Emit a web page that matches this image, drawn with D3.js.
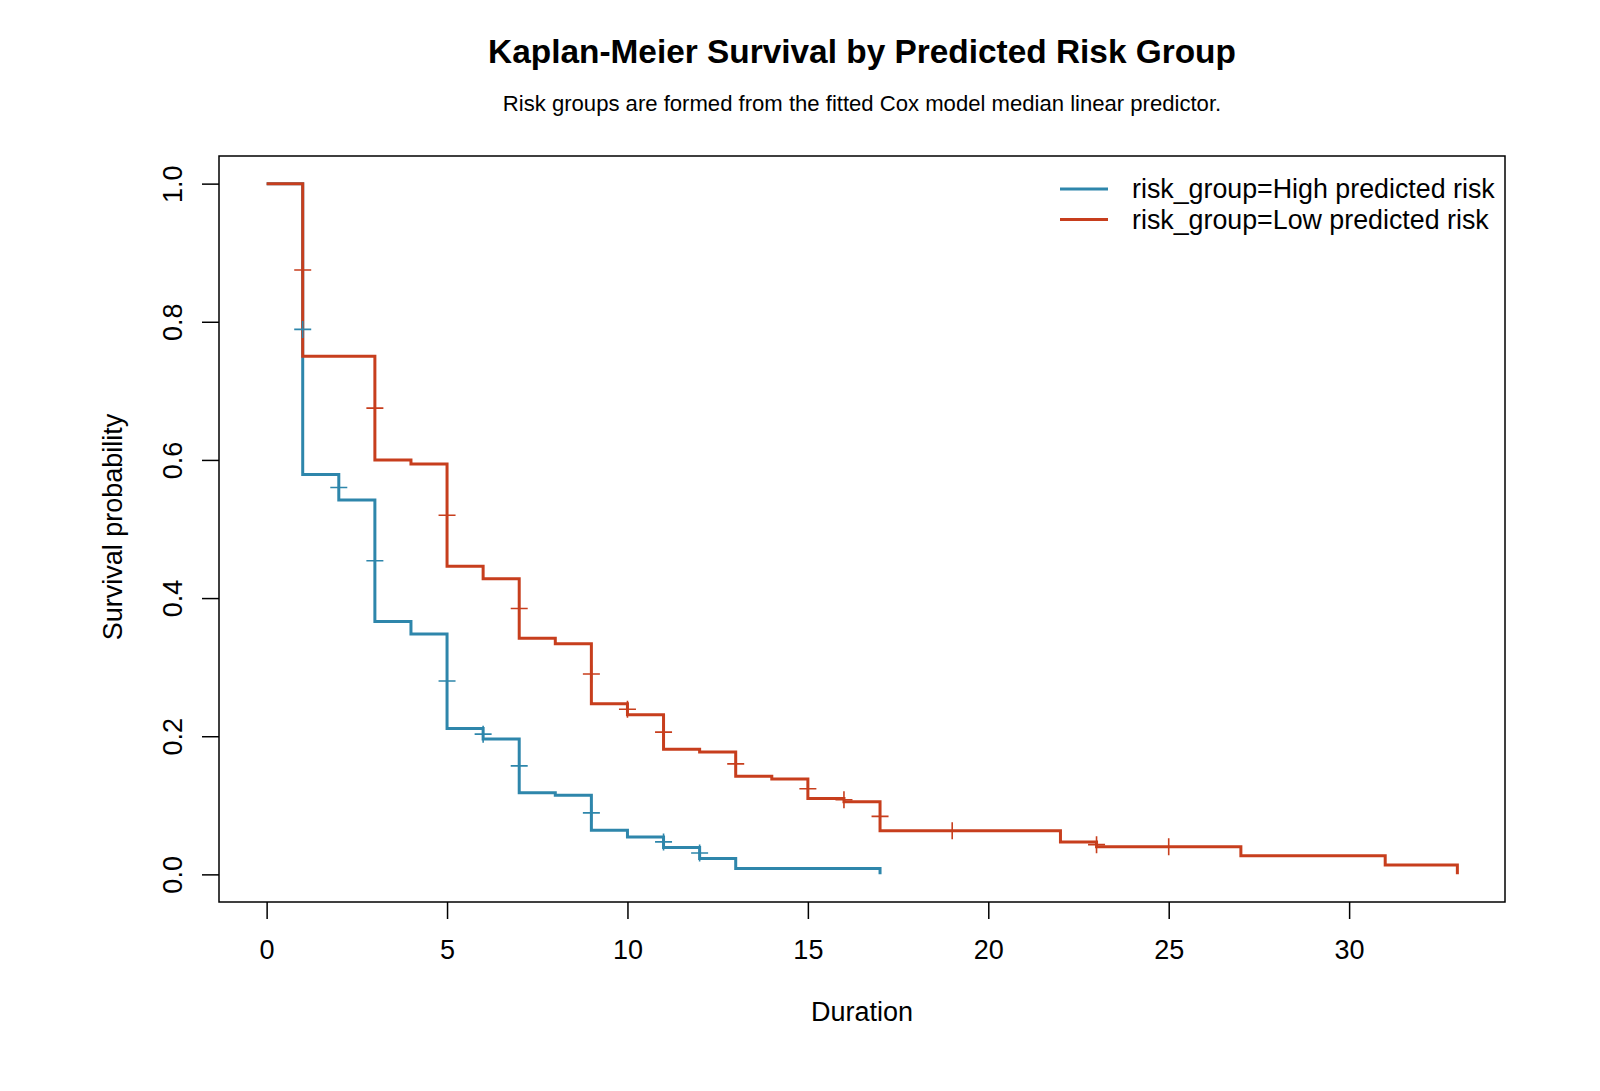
<!DOCTYPE html>
<html>
<head>
<meta charset="utf-8">
<script src="https://cdn.jsdelivr.net/npm/d3@7"></script>
<style>
  html, body { margin: 0; padding: 0; background: #ffffff; }
  svg text { font-family: "Liberation Sans", Arial, sans-serif; fill: #000; }
</style>
</head>
<body>
<svg id="chart" width="1600" height="1091"></svg>
<script>
// ---- data ----
const highTimes = [0, 1, 2, 3, 4, 5, 6, 7, 8, 9, 10, 11, 12, 13, 17];
const highSurv  = [1, 0.579, 0.542, 0.366, 0.348, 0.211, 0.196, 0.118, 0.1146, 0.064, 0.054, 0.039, 0.023, 0.0084, 0];
const highCensorTimes = [1, 2, 3, 5, 6, 7, 9, 11, 12];
const highCensorSurv  = [0.789, 0.56, 0.454, 0.28, 0.203, 0.157, 0.089, 0.047, 0.031];

const lowTimes = [0, 1, 3, 4, 5, 6, 7, 8, 9, 10, 11, 12, 13, 14, 15, 16, 17, 22, 23, 27, 31, 33];
const lowSurv  = [1, 0.75, 0.60, 0.594, 0.446, 0.428, 0.342, 0.334, 0.247, 0.231, 0.181, 0.177, 0.142, 0.138, 0.110, 0.105, 0.063, 0.047, 0.040, 0.027, 0.0137, 0];
const lowCensorTimes = [1, 3, 5, 7, 9, 10, 11, 13, 15, 16, 17, 19, 23, 25];
const lowCensorSurv  = [0.875, 0.675, 0.52, 0.385, 0.29, 0.239, 0.206, 0.16, 0.124, 0.108, 0.084, 0.063, 0.043, 0.040];

const seriesNames = ["risk_group=High predicted risk", "risk_group=Low predicted risk"];
const seriesColors = ["#2E86AB", "#C73E1D"];
const xTicks = [0, 5, 10, 15, 20, 25, 30];
const yTicks = [0, 0.2, 0.4, 0.6, 0.8, 1.0];

const titleText = "Kaplan-Meier Survival by Predicted Risk Group";
const subtitleText = "Risk groups are formed from the fitted Cox model median linear predictor.";
const xLabel = "Duration";
const yLabel = "Survival probability";

// ---- layout ----
const svg = d3.select("#chart");
const plot = { left: 219, right: 1505, top: 156, bottom: 902 };
const x = d3.scaleLinear().domain([-1.32, 34.32]).range([plot.left, plot.right]);
const y = d3.scaleLinear().domain([-0.04, 1.04]).range([plot.bottom, plot.top]);

// title
svg.append("text").attr("x", (plot.left + plot.right) / 2).attr("y", 63)
  .attr("text-anchor", "middle").style("font-size", "33.4px").style("font-weight", "bold")
  .text(titleText);
svg.append("text").attr("x", (plot.left + plot.right) / 2).attr("y", 111)
  .attr("text-anchor", "middle").style("font-size", "22.1px")
  .text(subtitleText);

// axes
const xAxis = d3.axisBottom(x).tickValues(xTicks).tickSize(17).tickFormat(d3.format("d"));
const gx = svg.append("g").attr("transform", `translate(0,${plot.bottom})`).call(xAxis);
gx.select(".domain").remove();
gx.selectAll("line").attr("stroke", "#000").attr("stroke-width", 1.5);
gx.selectAll("text").style("font-size", "27px").attr("dy", null).attr("y", 57);

const yAxis = d3.axisLeft(y).tickValues(yTicks).tickSize(17).tickFormat(d3.format(".1f"));
const gy = svg.append("g").attr("transform", `translate(${plot.left},0)`).call(yAxis);
gy.select(".domain").remove();
gy.selectAll("line").attr("stroke", "#000").attr("stroke-width", 1.5);
gy.selectAll("text")
  .style("font-size", "27px")
  .attr("x", null).attr("dy", null)
  .attr("text-anchor", "middle")
  .attr("transform", "translate(-37,0) rotate(-90)");

// box
svg.append("rect").attr("x", plot.left).attr("y", plot.top)
  .attr("width", plot.right - plot.left).attr("height", plot.bottom - plot.top)
  .attr("fill", "none").attr("stroke", "#000").attr("stroke-width", 1.5);

// axis labels
svg.append("text").attr("x", (plot.left + plot.right) / 2).attr("y", 1021)
  .attr("text-anchor", "middle").style("font-size", "27px").text(xLabel);
svg.append("text").attr("transform", `translate(122,${(plot.top + plot.bottom) / 2 - 2}) rotate(-90)`)
  .attr("text-anchor", "middle").style("font-size", "27px").text(yLabel);

// curves
const line = d3.line().x(d => x(d[0])).y(d => y(d[1])).curve(d3.curveStepAfter);
const curves = [
  { times: highTimes, surv: highSurv, ct: highCensorTimes, cs: highCensorSurv, color: seriesColors[0] },
  { times: lowTimes, surv: lowSurv, ct: lowCensorTimes, cs: lowCensorSurv, color: seriesColors[1] }
];
const layer = svg.append("g");
curves.forEach(c => {
  const pts = c.times.map((t, i) => [t, c.surv[i]]);
  layer.append("path").attr("d", line(pts)).attr("fill", "none")
    .attr("stroke", c.color).attr("stroke-width", 3).attr("stroke-linejoin", "miter").attr("stroke-linecap", "butt");
});
curves.forEach(c => {
  const marks = c.ct.map((t, i) => [t, c.cs[i]]);
  const g = layer.append("g");
  g.selectAll("path.cens").data(marks).join("path")
    .attr("class", "cens")
    .attr("d", d => `M${x(d[0]) - 8.5},${y(d[1])}H${x(d[0]) + 8.5}M${x(d[0])},${y(d[1]) - 8.5}V${y(d[1]) + 8.5}`)
    .attr("stroke", c.color).attr("stroke-width", 1.6).attr("fill", "none");
});

// legend
const legend = svg.append("g");
seriesNames.forEach((name, i) => {
  const ly = 189 + i * 30.5;
  legend.append("line").attr("x1", 1060).attr("x2", 1108).attr("y1", ly).attr("y2", ly)
    .attr("stroke", seriesColors[i]).attr("stroke-width", 3);
  legend.append("text").attr("x", 1132).attr("y", ly).attr("dy", "0.35em")
    .style("font-size", "26.8px").text(name);
});
</script>
</body>
</html>
